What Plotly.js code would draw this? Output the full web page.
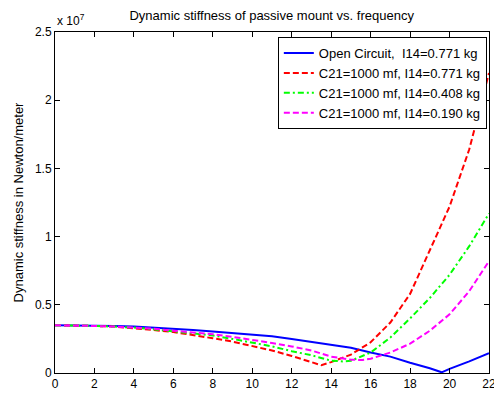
<!DOCTYPE html>
<html><head><meta charset="utf-8">
<script src="https://cdn.plot.ly/plotly-3.0.1.min.js"></script>
<style>body{margin:0;background:#fff}#c{width:494px;height:393px}</style>
</head><body><div id="c"></div>
<script>
// values in units of 1e7 N/m, frequency on x
const xOpen = [0,1,2,3,4,5,6,7,8,9,10,11,12,13,14,15,16,17,18,19,19.6,20,21,22];
const yOpen = [0.35,0.35,0.35,0.345,0.34,0.333,0.325,0.315,0.305,0.295,0.285,0.27,0.25,0.23,0.21,0.185,0.15,0.12,0.075,0.035,0.005,0.03,0.085,0.145];
const xC771 = [0,1,2,3,4,5,6,7,8,9,10,11,12,13,13.5,14,15,16,17,18,19,20,21,22];
const yC771 = [0.35,0.35,0.345,0.34,0.33,0.315,0.3,0.28,0.255,0.23,0.2,0.165,0.125,0.08,0.057,0.08,0.135,0.225,0.37,0.58,0.9,1.22,1.64,2.2];
const xC408 = [0,1,2,3,4,5,6,7,8,9,10,11,12,13,14,14.6,15,16,17,18,19,20,21,22];
const yC408 = [0.35,0.35,0.345,0.34,0.333,0.32,0.305,0.29,0.275,0.25,0.225,0.195,0.16,0.13,0.09,0.085,0.09,0.15,0.26,0.4,0.55,0.72,0.93,1.17];
const xC190 = [0,1,2,3,4,5,6,7,8,9,10,11,12,13,14,15,15.6,16,17,18,19,20,21,22];
const yC190 = [0.35,0.35,0.345,0.34,0.335,0.325,0.31,0.3,0.285,0.265,0.245,0.22,0.195,0.165,0.12,0.098,0.095,0.105,0.15,0.215,0.31,0.43,0.6,0.82];
const names = ["Open Circuit,  I14=0.771 kg","C21=1000 mf, I14=0.771 kg","C21=1000 mf, I14=0.408 kg","C21=1000 mf, I14=0.190 kg"];
const xTicks = [0,2,4,6,8,10,12,14,16,18,20,22];
const yTicks = [0,0.5,1,1.5,2,2.5];
const yTickText = ["0","0.5","1","1.5","2","2.5"];

const traces = [
 {x:xOpen,y:yOpen,name:names[0],mode:'lines',line:{color:'#0000ff',width:2,dash:'solid'}},
 {x:xC771,y:yC771,name:names[1],mode:'lines',line:{color:'#ff0000',width:2,dash:'6px,3px'}},
 {x:xC408,y:yC408,name:names[2],mode:'lines',line:{color:'#00ff00',width:2,dash:'6px,3px,2px,3px'}},
 {x:xC190,y:yC190,name:names[3],mode:'lines',line:{color:'#ff00ff',width:2,dash:'6px,3px'}}
];
const ax = {showline:true,linecolor:'#000',linewidth:1,mirror:'ticks',ticks:'inside',ticklen:5,tickcolor:'#000',showgrid:false,zeroline:false,ticklabeloverflow:'allow',tickfont:{family:'Liberation Sans, Arial',size:12,color:'#000'}};
const layout = {
 width:494,height:393,
 margin:{l:55,r:5,t:32,b:20},
 paper_bgcolor:'#fff',plot_bgcolor:'#fff',
 font:{family:'Liberation Sans, Arial',size:12,color:'#000'},
 title:{text:'Dynamic stiffness of passive mount vs. frequency',font:{size:13},x:0.55,xanchor:'center',y:0.96,yanchor:'middle'},
 xaxis:Object.assign({},ax,{range:[0,22],tickvals:xTicks}),
 yaxis:Object.assign({},ax,{range:[0,2.5],tickvals:yTicks,ticktext:yTickText,title:{text:'Dynamic stiffness in Newton/meter',font:{size:13},standoff:8}}),
 showlegend:true,
 legend:{x:0.995,y:0.985,xanchor:'right',yanchor:'top',bgcolor:'#fff',bordercolor:'#000',borderwidth:1,font:{size:13},tracegroupgap:0},
 annotations:[{text:'x 10<sup>7</sup>',xref:'paper',yref:'paper',x:0,y:1,xanchor:'left',yanchor:'bottom',showarrow:false,font:{size:12},xshift:0,yshift:2}]
};
Plotly.newPlot('c',traces,layout,{displayModeBar:false,staticPlot:true});
</script></body></html>
